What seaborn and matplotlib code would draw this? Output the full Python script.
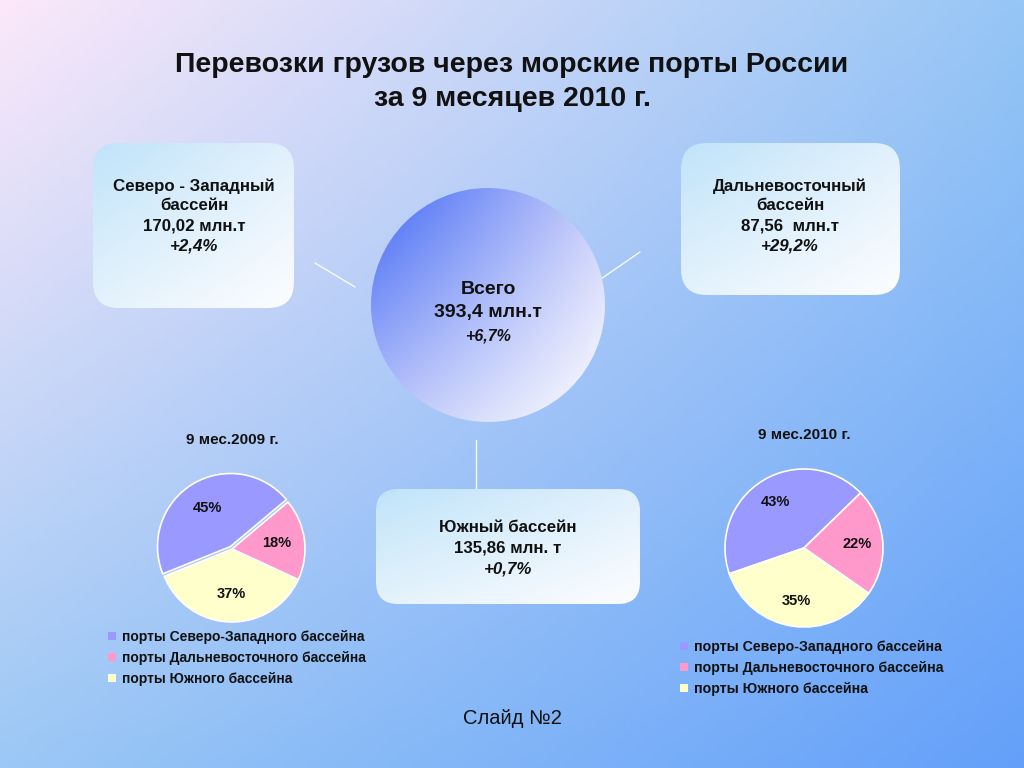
import numpy as np
import matplotlib
matplotlib.use('Agg')
import matplotlib.pyplot as plt
import seaborn as sns
from matplotlib.patches import FancyBboxPatch, Circle, Patch

# ---------------------------------------------
# Data
# ---------------------------------------------
basins = ['порты Северо-Западного бассейна',
          'порты Дальневосточного бассейна',
          'порты Южного бассейна']
pct_2009 = [45, 18, 37]
pct_2010 = [43, 22, 35]
pie_titles = ['9 мес.2009 г.', '9 мес.2010 г.']

title = 'Перевозки грузов через морские порты России\nза 9 месяцев 2010 г.'
total_text = ['Всего', '393,4 млн.т', '+6,7%']
nw_text = ['Северо - Западный', 'бассейн', '170,02 млн.т', '+2,4%']
fe_text = ['Дальневосточный', 'бассейн', '87,56  млн.т', '+29,2%']
south_text = ['Южный бассейн', '135,86 млн. т', '+0,7%']

pie_colors = ['#9999ff', '#ff99cc', '#ffffcc']

sns.set_style('white')
plt.rcParams['font.family'] = ['Liberation Sans', 'DejaVu Sans']

W, H = 1024, 768
fig = plt.figure(figsize=(W / 100, H / 100), dpi=100)
ax = fig.add_axes([0, 0, 1, 1])
ax.set_xlim(0, W)
ax.set_ylim(H, 0)
ax.axis('off')


def corner_gradient(h, w, tl, tr, bl, br):
    yy, xx = np.mgrid[0:1:h * 1j, 0:1:w * 1j]
    tl, tr, bl, br = [np.array(c) / 255.0 for c in (tl, tr, bl, br)]
    img = ((1 - xx)[..., None] * (1 - yy)[..., None] * tl
           + xx[..., None] * (1 - yy)[..., None] * tr
           + (1 - xx)[..., None] * yy[..., None] * bl
           + xx[..., None] * yy[..., None] * br)
    return np.clip(img, 0, 1)


# background
bg = corner_gradient(200, 260, (252, 232, 250), (150, 198, 245),
                     (155, 200, 245), (100, 160, 250))
ax.imshow(bg, extent=(0, W, H, 0), aspect='auto', zorder=0)


def gradient_box(x0, y0, x1, y1, rad):
    patch = FancyBboxPatch((x0, y0), x1 - x0, y1 - y0,
                           boxstyle='round,pad=0,rounding_size=%d' % rad,
                           facecolor='none', edgecolor='none', zorder=2)
    ax.add_patch(patch)
    img = corner_gradient(60, 60, (192, 228, 250), (225, 240, 252),
                          (228, 242, 252), (252, 253, 255))
    im = ax.imshow(img, extent=(x0, x1, y1, y0), aspect='auto', zorder=2)
    im.set_clip_path(patch)


def text_lines(cx, ys, lines, size=12.2):
    for y, s in zip(ys, lines):
        style = 'italic' if s.startswith('+') else 'normal'
        ax.text(cx, y, s, ha='center', va='center', fontsize=size,
                fontweight='bold', fontstyle=style, color='#111111', zorder=5)


# connector lines
for (xa, ya, xb, yb) in [(315, 263, 355, 287), (595, 283, 640, 252),
                         (476, 440, 476, 490)]:
    ax.plot([xa, xb], [ya, yb], color='white', lw=1.0, alpha=0.9, zorder=1)

# boxes
gradient_box(93, 143, 294, 308, 26)
gradient_box(681, 143, 900, 295, 26)
gradient_box(376, 489, 640, 604, 22)

text_lines(194, [186, 206, 226, 246], nw_text)
text_lines(790, [186, 206, 226, 246], fe_text)
text_lines(508, [527, 548, 569], south_text)

# central circle
circ = Circle((488, 305), 117, facecolor='none', edgecolor='none', zorder=3)
ax.add_patch(circ)
cimg = corner_gradient(80, 80, (65, 105, 245), (200, 205, 250),
                       (185, 195, 250), (255, 255, 255))
cim = ax.imshow(cimg, extent=(371, 605, 422, 188), aspect='auto', zorder=3)
cim.set_clip_path(circ)
ax.text(488, 290, total_text[0], ha='center', va='center', fontsize=14,
        fontweight='bold', color='#111111', zorder=5)
ax.text(488, 313, total_text[1], ha='center', va='center', fontsize=14,
        fontweight='bold', color='#111111', zorder=5)
ax.text(488, 336, total_text[2], ha='center', va='center', fontsize=11.5,
        fontweight='bold', fontstyle='italic', color='#111111', zorder=5)

# title
ax.text(512, 82, title, ha='center', va='center', fontsize=20.5,
        fontweight='bold', color='#111111', linespacing=1.4, zorder=5)

ax.text(512, 718, 'Слайд №2', ha='center', va='center', fontsize=14.5,
        color='#111111', zorder=5)


# pies
def draw_pie(cx, cy, r, values, start, explode, title_y, ttl,
             leg_x, leg_y, fs, pdist):
    half = r + 8
    pax = fig.add_axes([(cx - half) / W, (H - cy - half) / H,
                        2 * half / W, 2 * half / H])
    pax.pie(values, colors=pie_colors, startangle=start, counterclock=False,
            explode=explode, radius=1,
            autopct=lambda p: '%d%%' % round(p), pctdistance=pdist,
            wedgeprops=dict(edgecolor='white', linewidth=1.2),
            textprops=dict(fontsize=10.5, fontweight='bold', color='#111111'))
    pax.set_xlim(-half / r, half / r)
    pax.set_ylim(-half / r, half / r)
    pax.set_aspect('equal')
    pax.axis('off')
    ax.text(cx, title_y, ttl, ha='center', va='center', fontsize=11,
            fontweight='bold', color='#111111', zorder=5)
    handles = [Patch(facecolor=c, edgecolor='none') for c in pie_colors]
    leg = fig.legend(handles, basins, loc='upper left',
                     bbox_to_anchor=(leg_x / W, 1 - leg_y / H),
                     frameon=False, fontsize=fs, handlelength=0.55,
                     handleheight=0.55, handletextpad=0.45, labelspacing=0.5,
                     borderaxespad=0, borderpad=0)
    for t in leg.get_texts():
        t.set_fontweight('bold')
        t.set_color('#111111')


draw_pie(232, 549, 73, pct_2009, 202, (0.04, 0, 0), 440, pie_titles[0],
         108, 630, 10, 0.62)
draw_pie(804, 548, 79, pct_2010, 199, (0, 0, 0), 435, pie_titles[1],
         680, 640, 10.2, 0.68)

fig.savefig('out.png', dpi=100)
